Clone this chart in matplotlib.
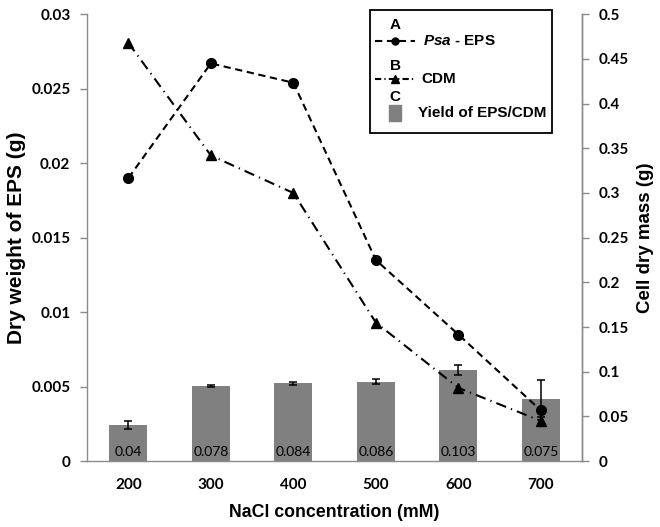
import matplotlib
matplotlib.use('Agg')
import matplotlib.pyplot as plt
import numpy as np
from matplotlib.lines import Line2D
from matplotlib.patches import Rectangle
from matplotlib.ticker import FuncFormatter

plt.rcParams['font.family'] = ['Liberation Sans', 'DejaVu Sans']
plt.rcParams['mathtext.fontset'] = 'custom'
plt.rcParams['mathtext.it'] = 'Liberation Sans:italic:bold'

# === data ===
nacl = ['200', '300', '400', '500', '600', '700']
eps_dry = [0.0190, 0.0267, 0.0254, 0.0135, 0.0085, 0.0034]      # left axis
cdm = [0.468, 0.342, 0.300, 0.155, 0.082, 0.045]                 # right axis
yield_ratio = [0.040, 0.084, 0.087, 0.089, 0.102, 0.070]         # right axis
yield_err = [0.0045, 0.001, 0.002, 0.003, 0.0056, 0.021]
yield_text = ['0.04', '0.078', '0.084', '0.086', '0.103', '0.075']

spine_col = '#8a8a8a'

fig = plt.figure(figsize=(6.6, 5.27), dpi=100)
ax1 = fig.add_axes([0.132, 0.125, 0.750, 0.848])
ax2 = ax1.twinx()
ax1.set_zorder(ax2.get_zorder() + 1)
ax1.patch.set_visible(False)

x = np.arange(len(nacl))

# bars + CDM on right axis
ax2.bar(x, yield_ratio, width=0.46, color='#808080', zorder=2,
        yerr=yield_err, capsize=3, error_kw=dict(ecolor='black', elinewidth=1.1, capthick=1.1))
for xi, t in zip(x, yield_text):
    ax2.text(xi, 0.004, t, ha='center', va='bottom', fontsize=10,
             family='Lato', color='black', zorder=3)
ax2.plot(x, cdm, color='black', lw=1.5, dashes=(5, 2.5, 0.6, 2.5),
         marker='^', markersize=7.5, zorder=4)

# EPS on left axis
ax1.plot(x, eps_dry, color='black', lw=1.5, dashes=(3.5, 2.2),
         marker='o', markersize=7, zorder=4)

ax1.set_xlim(-0.5, len(nacl) - 0.5)
ax1.set_ylim(0, 0.03)
ax2.set_ylim(0, 0.5)
ax1.set_yticks(np.arange(0, 0.0301, 0.005))
ax2.set_yticks(np.arange(0, 0.501, 0.05))
fmt = FuncFormatter(lambda v, p: '%g' % round(v, 4))
ax1.yaxis.set_major_formatter(fmt)
ax2.yaxis.set_major_formatter(fmt)
ax1.set_xticks(x)
ax1.set_xticklabels(nacl)

for ax in (ax1, ax2):
    ax.spines['top'].set_visible(False)
    for s in ('left', 'right', 'bottom'):
        ax.spines[s].set_color(spine_col)
        ax.spines[s].set_linewidth(1.0)
    for lab in ax.get_yticklabels() + ax.get_xticklabels():
        lab.set_fontfamily('Lato')
        lab.set_fontweight('bold')
        lab.set_fontsize(11)
ax1.tick_params(axis='y', direction='out', length=5, width=1, color=spine_col, pad=7)
ax2.tick_params(axis='y', direction='out', length=5, width=1, color=spine_col, pad=7)
ax1.tick_params(axis='x', length=0, pad=12)
ax2.spines['left'].set_visible(False)
ax2.spines['bottom'].set_visible(False)

ax1.set_ylabel('Dry weight of EPS (g)', fontsize=15, fontweight='bold', labelpad=4)
ax2.set_ylabel('Cell dry mass (g)', fontsize=13.5, fontweight='bold', labelpad=6)
ax1.set_xlabel('NaCl concentration (mM)', fontsize=12.8, fontweight='bold', labelpad=9)

# === legend drawn by hand (letters above the keys) ===
tr = ax1.transAxes
ax1.add_patch(Rectangle((0.572, 0.734), 0.367, 0.275, transform=tr, fill=False,
                        edgecolor='black', lw=1.3, clip_on=False, zorder=10))
ax1.add_line(Line2D([0.582, 0.662], [0.940, 0.940], transform=tr, color='black', lw=1.5,
                    dashes=(3.5, 2.2), clip_on=False, zorder=11))
ax1.add_line(Line2D([0.622], [0.940], transform=tr, color='black', marker='o',
                    markersize=5, clip_on=False, zorder=11))
ax1.add_line(Line2D([0.582, 0.662], [0.855, 0.855], transform=tr, color='black', lw=1.5,
                    dashes=(3, 1.5, 0.6, 1.5), clip_on=False, zorder=11))
ax1.add_line(Line2D([0.622], [0.855], transform=tr, color='black', marker='^',
                    markersize=6, clip_on=False, zorder=11))
ax1.add_patch(Rectangle((0.610, 0.760), 0.024, 0.036, transform=tr, color='#808080',
                        clip_on=False, zorder=11))
for ltr, yy in zip(['A', 'B', 'C'], [0.975, 0.884, 0.815]):
    ax1.text(0.622, yy, ltr, transform=tr, ha='center', va='center', fontsize=11,
             fontweight='bold', zorder=11)
legend_labels = [r'$\mathit{Psa}$ - EPS', 'CDM', 'Yield of EPS/CDM']
for lab, xx, yy in zip(legend_labels, [0.679, 0.675, 0.669], [0.940, 0.855, 0.778]):
    ax1.text(xx, yy, lab, transform=tr, ha='left', va='center', fontsize=11,
             fontweight='bold', zorder=11)

fig.savefig('out.png', dpi=100)
